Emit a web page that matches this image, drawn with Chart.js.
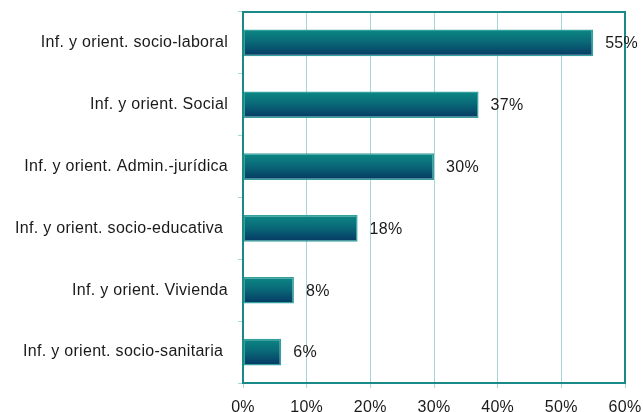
<!DOCTYPE html>
<html>
<head>
<meta charset="utf-8">
<script src="https://cdn.jsdelivr.net/npm/chart.js@4/dist/chart.umd.min.js"></script>
<style>
  html, body { margin: 0; padding: 0; background: #ffffff; }
  #wrap { width: 643px; height: 412px; position: relative; }
</style>
</head>
<body>
<div id="wrap"><canvas id="c" width="643" height="412"></canvas></div>
<script>
// Servicios de información y orientación (% de casos)
const categories = [
  'Inf. y orient. socio-laboral',
  'Inf. y orient. Social',
  'Inf. y orient. Admin.-jurídica',
  'Inf. y orient. socio-educativa ',
  'Inf. y orient. Vivienda',
  'Inf. y orient. socio-sanitaria '
];
const percentages = [55, 37, 30, 18, 8, 6];
const tickValues = [0, 10, 20, 30, 40, 50, 60];

const FONT = "'Liberation Sans', Arial, sans-serif";
const BAR_FRACTION = 0.43;

// Slightly open letter spacing for all chart text
const spacingPlugin = {
  id: 'letterSpacing',
  beforeDraw(chart) {
    chart.ctx.letterSpacing = '0.3px';
  }
};

// Vertical teal-to-navy gradient applied to every bar once its geometry is known
const gradientPlugin = {
  id: 'barGradient',
  beforeDatasetsDraw(chart) {
    const meta = chart.getDatasetMeta(0);
    meta.data.forEach(bar => {
      const half = bar.height / 2;
      if (!isFinite(bar.y) || !isFinite(half)) return;
      const g = chart.ctx.createLinearGradient(0, bar.y - half, 0, bar.y + half);
      g.addColorStop(0, '#0b8884');
      g.addColorStop(0.45, '#0a6a78');
      g.addColorStop(1, '#053863');
      bar.options.backgroundColor = g;
    });
  }
};

// Frame around the plot area plus value labels beside each bar
const framePlugin = {
  id: 'frameAndLabels',
  afterDatasetsDraw(chart) {
    const { ctx, chartArea: a } = chart;
    ctx.save();
    ctx.strokeStyle = '#1a8a88';
    ctx.lineWidth = 2;
    ctx.strokeRect(a.left, a.top, a.right - a.left, a.bottom - a.top);

    const meta = chart.getDatasetMeta(0);
    ctx.font = '16px ' + FONT;
    ctx.fillStyle = '#1a1a1a';
    ctx.textAlign = 'left';
    ctx.textBaseline = 'middle';
    meta.data.forEach((bar, i) => {
      ctx.fillText(percentages[i] + '%', bar.x + 12, bar.y + 1);
    });
    ctx.restore();
  }
};

new Chart(document.getElementById('c'), {
  type: 'bar',
  data: {
    labels: categories,
    datasets: [{
      data: percentages,
      // scriptable so each bar keeps its own option object (own gradient)
      backgroundColor: () => '#0a6a78',
      borderColor: '#35a19e',
      borderWidth: 1.5,
      borderSkipped: false,
      categoryPercentage: 1,
      barPercentage: BAR_FRACTION
    }]
  },
  options: {
    indexAxis: 'y',
    responsive: false,
    animation: false,
    devicePixelRatio: 1,
    layout: { padding: { top: 12, right: 18, left: 0, bottom: 0 } },
    plugins: {
      legend: { display: false },
      tooltip: { enabled: false }
    },
    scales: {
      x: {
        min: 0,
        max: 60,
        afterBuildTicks(scale) {
          scale.ticks = tickValues.map(v => ({ value: v }));
        },
        afterFit(scale) {
          scale.height = 29;
          scale.paddingLeft = 0;
          scale.paddingRight = 0;
        },
        grid: {
          color: '#a6d6d6',
          lineWidth: 1,
          tickLength: 5,
          drawTicks: true
        },
        border: { display: true, color: '#1a8a88', width: 2 },
        ticks: {
          padding: 10,
          color: '#1a1a1a',
          font: { family: FONT, size: 16 },
          maxRotation: 0,
          callback: v => v + '%'
        }
      },
      y: {
        afterFit(scale) {
          scale.width = 243;
          scale.paddingTop = 0;
          scale.paddingBottom = 0;
        },
        grid: {
          offset: true,
          drawOnChartArea: false,
          color: '#a6d6d6',
          tickLength: 5
        },
        border: { display: true, color: '#1a8a88', width: 2 },
        ticks: {
          padding: 10,
          color: '#1a1a1a',
          font: { family: FONT, size: 16 }
        }
      }
    }
  },
  plugins: [spacingPlugin, gradientPlugin, framePlugin]
});
</script>
</body>
</html>
